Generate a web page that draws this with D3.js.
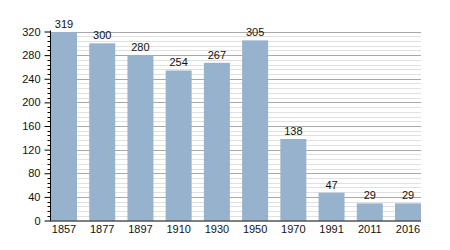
<!DOCTYPE html>
<html>
<head>
<meta charset="utf-8">
<script src="https://cdn.jsdelivr.net/npm/d3@7"></script>
<style>
  body { margin: 0; background: #fff; }
  text { font-family: "Liberation Sans", Arial, sans-serif; }
</style>
</head>
<body>
<svg id="chart" width="450" height="250"></svg>
<script>
const years = ["1857", "1877", "1897", "1910", "1930", "1950", "1970", "1991", "2011", "2016"];
const population = [319, 300, 280, 254, 267, 305, 138, 47, 29, 29];
const yTicks = [0, 40, 80, 120, 160, 200, 240, 280, 320];

const svg = d3.select("#chart");
const plotLeft = 50, plotRight = 421, plotTop = 31.5, plotBottom = 220.5;

const x = d3.scaleBand().domain(years).range([plotLeft + 1, plotRight]).paddingInner(0.32).paddingOuter(0);
const y = d3.scaleLinear().domain([0, 320]).range([plotBottom, plotTop]);

// minor grid every 8
const minor = d3.range(0, 321, 8).filter(v => v % 40 !== 0);
svg.append("g").selectAll("line").data(minor).join("line")
  .attr("x1", plotLeft).attr("x2", plotRight)
  .attr("y1", d => Math.round(y(d)) + 0.5).attr("y2", d => Math.round(y(d)) + 0.5)
  .attr("stroke", "#e0e0e0").attr("stroke-width", 1);
svg.append("g").selectAll("line").data(yTicks.filter(v => v > 0)).join("line")
  .attr("x1", plotLeft).attr("x2", plotRight)
  .attr("y1", d => Math.round(y(d)) + 0.5).attr("y2", d => Math.round(y(d)) + 0.5)
  .attr("stroke", "#a8a8a8").attr("stroke-width", 1);

// bars
svg.append("g").selectAll("rect").data(population).join("rect")
  .attr("x", (d, i) => x(years[i]))
  .attr("width", x.bandwidth())
  .attr("y", d => y(d))
  .attr("height", d => y(0) - y(d))
  .attr("fill", "#97b2cc");

// value labels
svg.append("g").selectAll("text").data(population).join("text")
  .attr("x", (d, i) => x(years[i]) + x.bandwidth() / 2)
  .attr("y", d => y(d) - 4)
  .attr("text-anchor", "middle")
  .attr("font-size", 11)
  .attr("fill", "#111")
  .text(d => d);

// y axis with minor ticks
const yAxis = svg.append("g").attr("transform", `translate(${plotLeft + 0.5},0)`);
yAxis.call(d3.axisLeft(y).tickValues(yTicks).tickSize(6).tickPadding(4))
  .call(g => g.select(".domain").remove())
  .call(g => g.selectAll(".tick text").attr("font-size", 11).attr("fill", "#111"));
yAxis.selectAll(".minor").data(minor).join("line")
  .attr("x1", -3).attr("x2", 0)
  .attr("y1", d => Math.round(y(d)) + 0.5).attr("y2", d => Math.round(y(d)) + 0.5)
  .attr("stroke", "#000");
yAxis.append("line").attr("x1", 0).attr("x2", 0).attr("y1", plotTop - 1).attr("y2", plotBottom).attr("stroke", "#000");

// x axis
const xAxis = svg.append("g").attr("transform", `translate(0,${plotBottom})`);
xAxis.call(d3.axisBottom(x).tickSize(0).tickPadding(5))
  .call(g => g.select(".domain").attr("d", `M${plotLeft},0.5H${plotRight}`).attr("stroke", "#000"))
  .call(g => g.selectAll(".tick text").attr("font-size", 11).attr("fill", "#111"));
</script>
</body>
</html>
